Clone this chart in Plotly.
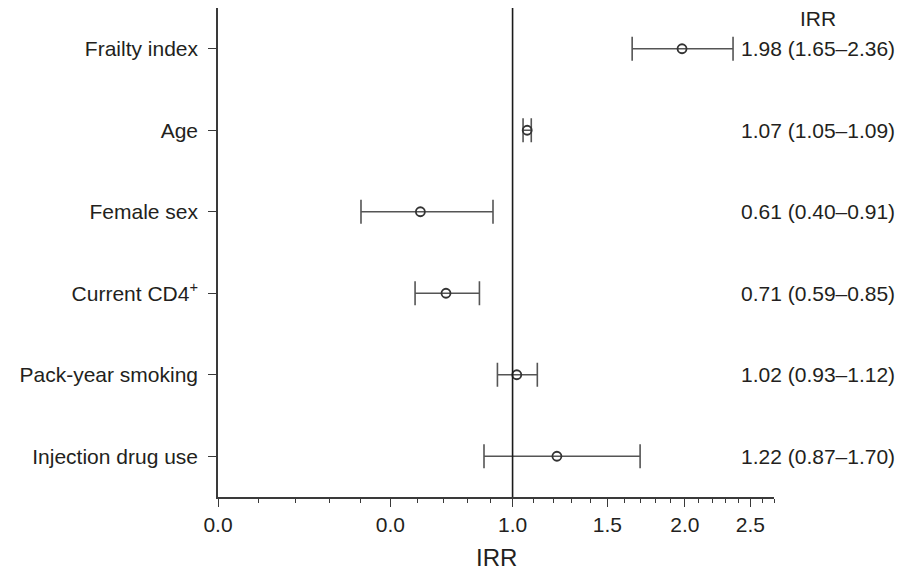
import math
import plotly.graph_objects as go

variables = ["Frailty index", "Age", "Female sex", "Current CD4<sup>+</sup>",
             "Pack-year smoking", "Injection drug use"]
irr = [1.98, 1.07, 0.61, 0.71, 1.02, 1.22]
ci_low = [1.65, 1.05, 0.40, 0.59, 0.93, 0.87]
ci_high = [2.36, 1.09, 0.91, 0.85, 1.12, 1.70]
tick_values = [0.0, 0.5, 1.0, 1.5, 2.0, 2.5]
tick_labels = ["0.0", "0.0", "1.0", "1.5", "2.0", "2.5"]
minor_values = [round(0.1 * i, 1) for i in range(0, 28)]
x_title = "IRR"

# axis is a log(1 + x) scale: plot (x + 1) on a log axis
shift = 1.0
xs = [v + shift for v in irr]
err_plus = [h - v for h, v in zip(ci_high, irr)]
err_minus = [v - l for v, l in zip(irr, ci_low)]
ypos = list(range(len(variables)))

FONT = "Liberation Sans, Arial, Helvetica, sans-serif"
INK = "#231f20"
LINE = "#3a3a3a"
BAR = "#555555"
FS = 21

fig = go.Figure()
fig.add_trace(go.Scatter(
    x=xs, y=ypos, mode="markers",
    marker=dict(symbol="circle-open", size=9, color="#333333", line=dict(width=1.8, color="#333333")),
    error_x=dict(type="data", symmetric=False, array=err_plus, arrayminus=err_minus,
                 color=BAR, thickness=1.6, width=12),
    showlegend=False, hoverinfo="skip",
))

fig.add_shape(type="line", xref="x", yref="paper", x0=1 + shift, x1=1 + shift, y0=0, y1=1,
              line=dict(color="#1a1a1a", width=1.6))

for i, (v, l, h) in enumerate(zip(irr, ci_low, ci_high)):
    fig.add_annotation(xref="paper", yref="y", x=1.2212, y=i, xanchor="right",
                       text=f"{v:.2f} ({l:.2f}\u2013{h:.2f})", showarrow=False,
                       font=dict(family=FONT, size=FS, color=INK))
fig.add_annotation(xref="paper", yref="paper", x=1.079, y=0.978, xanchor="center",
                   yanchor="middle",
                   text="IRR", showarrow=False, font=dict(family=FONT, size=FS, color=INK))
fig.add_annotation(xref="paper", yref="paper", x=0.5, y=-0.1227, xanchor="center",
                   yanchor="middle",
                   text=x_title, showarrow=False, font=dict(family=FONT, size=24, color=INK))

fig.update_xaxes(
    type="log",
    range=[math.log10(0.0 + shift), math.log10(2.7 + shift)],
    tickmode="array",
    tickvals=[t + shift for t in tick_values],
    ticktext=tick_labels,
    ticks="outside", ticklen=8, tickwidth=1.3, tickcolor=LINE,
    minor=dict(tickmode="array", tickvals=[m + shift for m in minor_values],
               ticks="outside", ticklen=4, tickwidth=1.3, tickcolor=LINE, showgrid=False),
    showline=True, linecolor=LINE, linewidth=1.5,
    showgrid=False, zeroline=False, automargin=False,
    tickfont=dict(family=FONT, size=FS, color=INK),
)
fig.update_yaxes(
    range=[len(variables) - 0.5, -0.5],
    tickmode="array", tickvals=ypos, ticktext=variables,
    ticks="outside", ticklen=8, tickwidth=1.3, tickcolor=LINE,
    showline=True, linecolor=LINE, linewidth=1.5,
    showgrid=False, zeroline=False, automargin=False,
    tickfont=dict(family=FONT, size=FS, color=INK),
    ticklabelstandoff=6,
)
fig.update_layout(
    width=904, height=564,
    margin=dict(l=210, r=138, t=0, b=75),
    paper_bgcolor="white", plot_bgcolor="white",
)
fig.write_html("out.html")
